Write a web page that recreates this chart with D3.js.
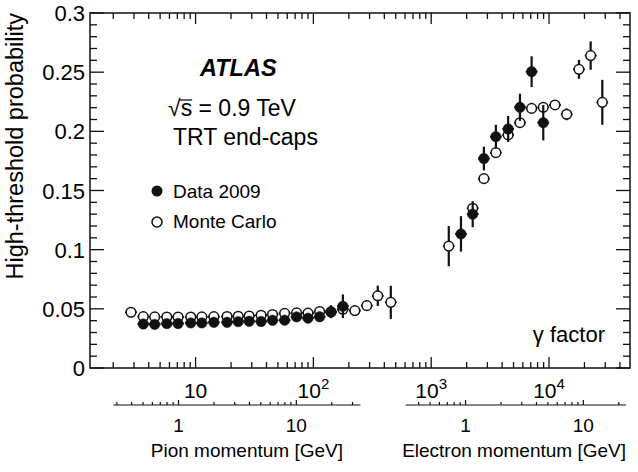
<!DOCTYPE html>
<html>
<head>
<meta charset="utf-8">
<script src="https://cdn.jsdelivr.net/npm/d3@7"></script>
<style>
body { margin: 0; background: #fff; }
text { font-family: "Liberation Sans", Arial, Helvetica, sans-serif; fill: #000; }
</style>
</head>
<body>
<div class="d3-container"></div>
<script>
const w = 638
const h = 472
const pLeft = 90
const pRight = 630
const pTop = 13
const pBottom = 368

// Data 2009: gamma factor, high-threshold probability, error
const dataGamma = [3.6, 4.5, 5.7, 7.1, 9.1, 11.3, 14.3, 18.5, 23, 28.5, 36, 45, 57, 72, 90, 113, 141, 178,
    1790, 2250, 2800, 3540, 4500, 5670, 7120, 8940]
const dataProb = [0.0372, 0.0369, 0.0375, 0.0376, 0.0381, 0.0381, 0.0386, 0.0386, 0.0392, 0.0395, 0.0393, 0.0403, 0.0404, 0.0432, 0.0421, 0.0433, 0.0476, 0.0522,
    0.1133, 0.130, 0.177, 0.1955, 0.202, 0.2203, 0.2504, 0.2073]
const dataErr = [0.001, 0.001, 0.001, 0.001, 0.001, 0.001, 0.001, 0.001, 0.001, 0.001, 0.001, 0.001, 0.0015, 0.002, 0.002, 0.003, 0.0055, 0.010,
    0.015, 0.011, 0.010, 0.010, 0.011, 0.0115, 0.013, 0.015]

// Monte Carlo
const mcGamma = [2.83, 3.6, 4.5, 5.7, 7.1, 9.1, 11.3, 14.3, 18.5, 23, 28.5, 36, 45, 57, 72, 90, 113, 141, 178, 225, 284, 352, 454,
    1410, 2250, 2800, 3540, 4500, 5670, 7120, 8940, 11240, 14130, 17960, 22570, 28340]
const mcProb = [0.0471, 0.0434, 0.0432, 0.0431, 0.0431, 0.0431, 0.0432, 0.0434, 0.0435, 0.0437, 0.0440, 0.0446, 0.0452, 0.0462, 0.0466, 0.0464, 0.0478, 0.0472, 0.0496, 0.0485, 0.0527, 0.061, 0.0555,
    0.103, 0.135, 0.160, 0.182, 0.197, 0.2073, 0.2194, 0.2203, 0.2223, 0.2144, 0.2524, 0.264, 0.2245]
const mcErr = [0.001, 0.001, 0.001, 0.001, 0.001, 0.001, 0.001, 0.001, 0.001, 0.001, 0.001, 0.001, 0.001, 0.001, 0.0015, 0.0015, 0.002, 0.002, 0.003, 0.003, 0.004, 0.0086, 0.014,
    0.017, 0.004, 0.003, 0.003, 0.003, 0.003, 0.003, 0.003, 0.003, 0.005, 0.008, 0.012, 0.019]

const yTicks = [0, 0.05, 0.1, 0.15, 0.2, 0.25, 0.3]
const yTickLabels = ['0', '0.05', '0.1', '0.15', '0.2', '0.25', '0.3']
const gammaLabelValues = [10, 100, 1000, 10000]
const gammaLabelExp = ['', '2', '3', '4']
const momentumLabels = [1, 10]

const mPion = 0.13957
const mElectron = 0.000511
const pionRange = [0.28, 35]
const electronRange = [0.31, 23]
const binHalf = Math.pow(10, 0.05)

const svg = d3.select('.d3-container')
    .append('svg')
    .attr('width', w)
    .attr('height', h)

const x = d3.scaleLog()
    .domain([1.27, 48700])
    .range([pLeft, pRight])

const y = d3.scaleLinear()
    .domain([0, 0.3])
    .range([pBottom, pTop])

const ink = '#111'

// frame ticks
const isMajor = (v) => Math.abs(Math.log10(v) - Math.round(Math.log10(v))) < 1e-6
const xt = x.ticks()
const tickG = svg.append('g').attr('stroke', ink).attr('stroke-width', 1.3)

tickG.selectAll('line.xb')
    .data(xt)
    .enter()
    .append('line')
    .attr('x1', d => x(d)).attr('x2', d => x(d))
    .attr('y1', pBottom).attr('y2', d => pBottom - (isMajor(d) ? 11 : 6))

tickG.selectAll('line.xt')
    .data(xt)
    .enter()
    .append('line')
    .attr('x1', d => x(d)).attr('x2', d => x(d))
    .attr('y1', pTop).attr('y2', d => pTop + (isMajor(d) ? 11 : 6))

const yt = d3.range(0, 31).map(i => i / 100)
tickG.selectAll('line.yl')
    .data(yt)
    .enter()
    .append('line')
    .attr('y1', d => y(d)).attr('y2', d => y(d))
    .attr('x1', pLeft).attr('x2', (d, i) => pLeft + (i % 5 === 0 ? 14 : 7))

tickG.selectAll('line.yr')
    .data(yt)
    .enter()
    .append('line')
    .attr('y1', d => y(d)).attr('y2', d => y(d))
    .attr('x1', pRight).attr('x2', (d, i) => pRight - (i % 5 === 0 ? 14 : 7))

svg.append('rect')
    .attr('x', pLeft).attr('y', pTop)
    .attr('width', pRight - pLeft).attr('height', pBottom - pTop)
    .attr('fill', 'none')
    .attr('stroke', ink)
    .attr('stroke-width', 1.5)

// y labels
svg.append('g')
    .selectAll('text')
    .data(yTicks)
    .enter()
    .append('text')
    .attr('x', 85)
    .attr('y', d => y(d) + 8)
    .attr('text-anchor', 'end')
    .attr('font-size', 22)
    .text((d, i) => yTickLabels[i])

svg.append('text')
    .attr('transform', `translate(23, ${pTop}) rotate(-90)`)
    .attr('text-anchor', 'end')
    .attr('font-size', 23.5)
    .text('High-threshold probability')

// gamma labels
const gl = svg.append('g')
    .selectAll('text')
    .data(gammaLabelValues)
    .enter()
    .append('text')
    .attr('x', d => x(d))
    .attr('y', 398)
    .attr('text-anchor', 'middle')
    .attr('font-size', 21)
gl.append('tspan').text('10')
gl.append('tspan')
    .attr('dy', -9)
    .attr('font-size', 15)
    .text((d, i) => gammaLabelExp[i])

// momentum axes
const momentumAxis = (range, mass, title, titleEnd) => {
    const s = d3.scaleLog()
        .domain(range)
        .range([x(range[0] / mass), x(range[1] / mass)])
    const g = svg.append('g')
    g.append('line')
        .attr('x1', s.range()[0]).attr('x2', s.range()[1])
        .attr('y1', 405).attr('y2', 405)
        .attr('stroke', ink).attr('stroke-width', 1.2)
    g.selectAll('line.t')
        .data(s.ticks())
        .enter()
        .append('line')
        .attr('x1', d => s(d)).attr('x2', d => s(d))
        .attr('y1', 405).attr('y2', d => 405 - (isMajor(d) ? 5 : 3))
        .attr('stroke', ink).attr('stroke-width', 1.2)
    g.selectAll('text.l')
        .data(momentumLabels)
        .enter()
        .append('text')
        .attr('x', d => s(d))
        .attr('y', 432)
        .attr('text-anchor', 'middle')
        .attr('font-size', 19)
        .text(d => d)
    g.append('text')
        .attr('x', titleEnd)
        .attr('y', 457)
        .attr('text-anchor', 'end')
        .attr('font-size', 19)
        .text(title)
}
momentumAxis(pionRange, mPion, 'Pion momentum [GeV]', 343)
momentumAxis(electronRange, mElectron, 'Electron momentum [GeV]', 626)

// points
const drawSeries = (gam, prob, err, filled) => {
    const pts = gam.map((d, i) => ({ g: d, p: prob[i], e: err[i] }))
    const g = svg.append('g')
    g.selectAll('line.v')
        .data(pts)
        .enter()
        .append('line')
        .attr('x1', d => x(d.g)).attr('x2', d => x(d.g))
        .attr('y1', d => y(d.p - d.e)).attr('y2', d => y(d.p + d.e))
        .attr('stroke', ink).attr('stroke-width', 2.2)
    g.selectAll('line.hz')
        .data(pts)
        .enter()
        .append('line')
        .attr('x1', d => x(d.g / binHalf)).attr('x2', d => x(d.g * binHalf))
        .attr('y1', d => y(d.p)).attr('y2', d => y(d.p))
        .attr('stroke', ink).attr('stroke-width', 1.8)
    g.selectAll('circle')
        .data(pts)
        .enter()
        .append('circle')
        .attr('cx', d => x(d.g))
        .attr('cy', d => y(d.p))
        .attr('r', filled ? 5.2 : 4.8)
        .attr('fill', filled ? ink : '#fff')
        .attr('stroke', ink)
        .attr('stroke-width', filled ? 0.5 : 1.5)
}
drawSeries(mcGamma, mcProb, mcErr, false)
drawSeries(dataGamma, dataProb, dataErr, true)

// text
svg.append('text')
    .attr('x', 200).attr('y', 76)
    .attr('font-size', 23.5)
    .attr('font-weight', 'bold')
    .attr('font-style', 'italic')
    .text('ATLAS')

const sq = svg.append('text')
    .attr('x', 168).attr('y', 116)
    .attr('font-size', 23)
sq.append('tspan').text('\u221A')
sq.append('tspan').text('s = 0.9 TeV')
const sNode = sq.node()
const rootBox = sNode.getExtentOfChar(0)
const sBox = sNode.getExtentOfChar(1)
svg.append('line')
    .attr('x1', rootBox.x + rootBox.width - 1).attr('x2', sBox.x + sBox.width)
    .attr('y1', 100).attr('y2', 100)
    .attr('stroke', ink).attr('stroke-width', 1.3)

svg.append('text')
    .attr('x', 173).attr('y', 145)
    .attr('font-size', 23)
    .text('TRT end-caps')

const legend = svg.append('g')
legend.append('circle')
    .attr('cx', 157).attr('cy', 191).attr('r', 5.5)
    .attr('fill', ink)
legend.append('circle')
    .attr('cx', 157).attr('cy', 222).attr('r', 5)
    .attr('fill', '#fff').attr('stroke', ink).attr('stroke-width', 1.5)
legend.append('text')
    .attr('x', 173).attr('y', 198)
    .attr('font-size', 19)
    .text('Data 2009')
legend.append('text')
    .attr('x', 173).attr('y', 228)
    .attr('font-size', 19)
    .text('Monte Carlo')

svg.append('text')
    .attr('x', 605).attr('y', 342)
    .attr('text-anchor', 'end')
    .attr('font-size', 22)
    .text('\u03B3 factor')
</script>
</body>
</html>
